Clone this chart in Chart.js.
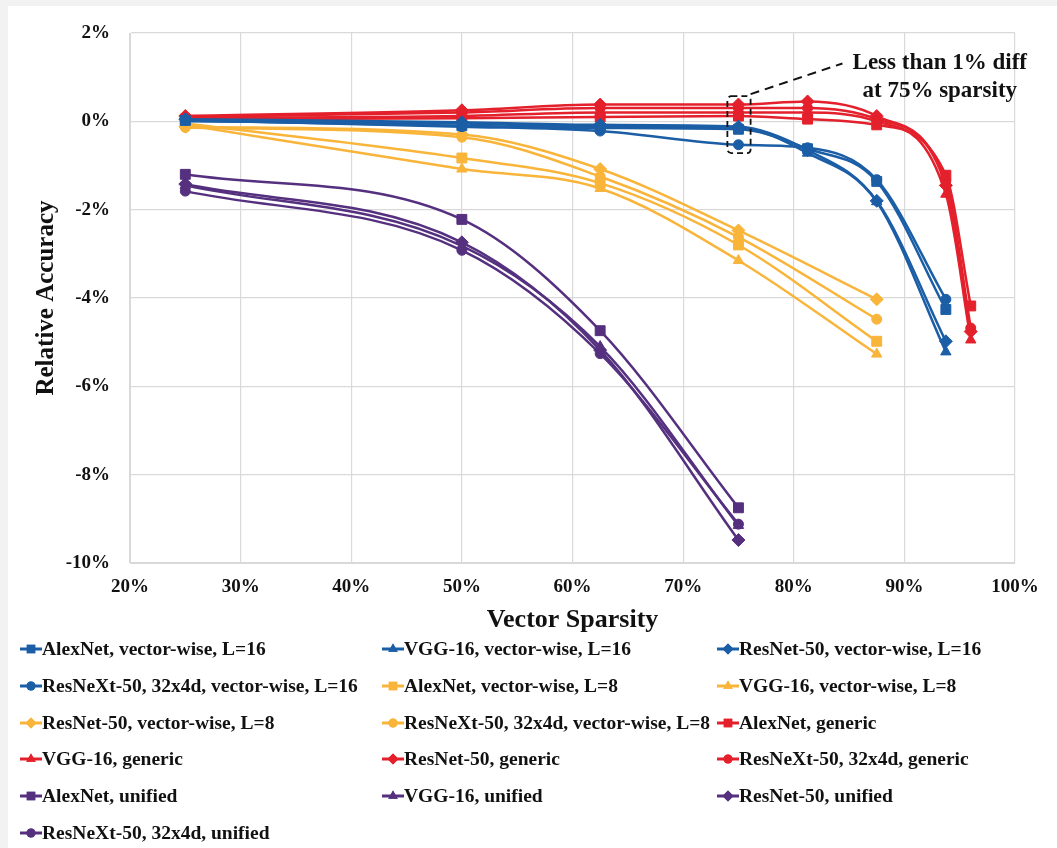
<!DOCTYPE html>
<html>
<head>
<meta charset="utf-8">
<script src="https://cdn.jsdelivr.net/npm/chart.js"></script>
<style>
  body { margin: 0; background: #f2f2f2; }
  #wrap { position: absolute; left: 8px; top: 6px; width: 1049px; height: 842px; background: #fff; }
  #chart-box { position: absolute; left: -8px; top: -6px; width: 1057px; height: 640px; }
  #legend {
    position: absolute; left: 12px; top: 625px; width: 1040px;
    display: grid; grid-template-columns: 362px 335px 340px; grid-auto-rows: 36.7px;
    font-family: "Liberation Serif", serif; font-weight: bold; font-size: 19.5px; color: #111;
  }
  .leg-item { display: flex; align-items: center; white-space: nowrap; }
  .leg-item canvas { margin-right: 0; }
</style>
</head>
<body>
<div id="wrap">
  <div id="chart-box"><canvas id="chart"></canvas></div>
  <div id="legend"></div>
</div>
<script>
// x positions (vector sparsity, %)
const xL16 = [25, 50, 62.5, 75, 81.25, 87.5, 93.75];
const xL8 = [25, 50, 62.5, 75, 87.5];
const xGeneric = [25, 50, 62.5, 75, 81.25, 87.5, 93.75, 96];
const xUnified = [25, 50, 62.5, 75];

// relative accuracy (%)
const alexL16 = [0.02, -0.1, -0.15, -0.18, -0.62, -1.36, -4.26];
const vggL16 = [0.0, -0.05, -0.12, -0.15, -0.72, -1.82, -5.22];
const resnetL16 = [0.05, -0.02, -0.08, -0.12, -0.65, -1.8, -4.98];
const resnextL16 = [0.03, -0.12, -0.22, -0.53, -0.6, -1.32, -4.03];

const alexL8 = [-0.05, -0.83, -1.4, -2.8, -4.98];
const vggL8 = [-0.08, -1.08, -1.52, -3.15, -5.27];
const resnetL8 = [-0.12, -0.3, -1.08, -2.47, -4.03];
const resnextL8 = [-0.14, -0.36, -1.25, -2.62, -4.48];

const alexGeneric = [0.05, 0.07, 0.1, 0.12, 0.05, -0.08, -1.22, -4.18];
const vggGeneric = [0.08, 0.12, 0.2, 0.2, 0.2, 0.0, -1.65, -4.95];
const resnetGeneric = [0.12, 0.25, 0.38, 0.38, 0.45, 0.12, -1.45, -4.76];
const resnextGeneric = [0.1, 0.2, 0.3, 0.3, 0.3, 0.05, -1.35, -4.68];

const alexUnified = [-1.2, -2.22, -4.74, -8.75];
const vggUnified = [-1.45, -2.82, -5.1, -9.15];
const resnetUnified = [-1.42, -2.74, -5.18, -9.48];
const resnextUnified = [-1.58, -2.92, -5.26, -9.12];

const xTicks = [20, 30, 40, 50, 60, 70, 80, 90, 100];
const yTicks = [2, 0, -2, -4, -6, -8, -10];

const BLUE = '#1b5ea6', YELLOW = '#f9b43a', RED = '#e3202b', PURPLE = '#55307f';
const FONT = '"Liberation Serif", "Times New Roman", serif';
const SIZES = { rect: 7, triangle: 6, rectRot: 6.5, circle: 5 };

function pts(xs, ys) {
  return xs.map((x, i) => ({ x: x, y: ys[i] }));
}

function series(label, xs, ys, color, shape) {
  return {
    label: label,
    data: pts(xs, ys),
    borderColor: color,
    backgroundColor: color,
    pointStyle: shape,
    pointRadius: SIZES[shape],
    pointBorderWidth: 1,
    borderWidth: 2.5,
    cubicInterpolationMode: 'monotone'
  };
}

const datasets = [
  series('AlexNet, vector-wise, L=16', xL16, alexL16, BLUE, 'rect'),
  series('VGG-16, vector-wise, L=16', xL16, vggL16, BLUE, 'triangle'),
  series('ResNet-50, vector-wise, L=16', xL16, resnetL16, BLUE, 'rectRot'),
  series('ResNeXt-50, 32x4d, vector-wise, L=16', xL16, resnextL16, BLUE, 'circle'),
  series('AlexNet, vector-wise, L=8', xL8, alexL8, YELLOW, 'rect'),
  series('VGG-16, vector-wise, L=8', xL8, vggL8, YELLOW, 'triangle'),
  series('ResNet-50, vector-wise, L=8', xL8, resnetL8, YELLOW, 'rectRot'),
  series('ResNeXt-50, 32x4d, vector-wise, L=8', xL8, resnextL8, YELLOW, 'circle'),
  series('AlexNet, generic', xGeneric, alexGeneric, RED, 'rect'),
  series('VGG-16, generic', xGeneric, vggGeneric, RED, 'triangle'),
  series('ResNet-50, generic', xGeneric, resnetGeneric, RED, 'rectRot'),
  series('ResNeXt-50, 32x4d, generic', xGeneric, resnextGeneric, RED, 'circle'),
  series('AlexNet, unified', xUnified, alexUnified, PURPLE, 'rect'),
  series('VGG-16, unified', xUnified, vggUnified, PURPLE, 'triangle'),
  series('ResNet-50, unified', xUnified, resnetUnified, PURPLE, 'rectRot'),
  series('ResNeXt-50, 32x4d, unified', xUnified, resnextUnified, PURPLE, 'circle')
];

// dashed box + callout text
const callout = {
  id: 'callout',
  afterDatasetsDraw(chart) {
    const sx = chart.scales.x, sy = chart.scales.y, ctx = chart.ctx;
    const x1 = sx.getPixelForValue(74), x2 = sx.getPixelForValue(76.1);
    const y1 = sy.getPixelForValue(0.57), y2 = sy.getPixelForValue(-0.72);
    ctx.save();
    ctx.strokeStyle = '#111';
    ctx.lineWidth = 1.8;
    ctx.setLineDash([6, 4]);
    ctx.beginPath();
    ctx.roundRect(x1, y1, x2 - x1, y2 - y1, 4);
    ctx.stroke();
    ctx.lineWidth = 2;
    ctx.setLineDash([9, 6]);
    ctx.beginPath();
    ctx.moveTo(x2, y1 - 2);
    ctx.lineTo(sx.getPixelForValue(84.4), sy.getPixelForValue(1.31));
    ctx.stroke();
    ctx.setLineDash([]);
    ctx.fillStyle = '#111';
    ctx.font = 'bold 23px ' + FONT;
    ctx.textAlign = 'center';
    ctx.textBaseline = 'middle';
    const tx = sx.getPixelForValue(93.2);
    ctx.fillText('Less than 1% diff', tx, sy.getPixelForValue(1.33));
    ctx.fillText('at 75% sparsity', tx, sy.getPixelForValue(0.68));
    ctx.restore();
  }
};

const chart = new Chart(document.getElementById('chart'), {
  type: 'line',
  data: { datasets: datasets },
  options: {
    responsive: true,
    maintainAspectRatio: false,
    animation: false,
    layout: { padding: { left: 28, right: 42, top: 33, bottom: 0 } },
    plugins: { legend: { display: false }, tooltip: { enabled: false } },
    scales: {
      x: {
        type: 'linear',
        min: 20, max: 100,
        afterBuildTicks: s => { s.ticks = xTicks.map(v => ({ value: v })); },
        afterFit: s => { s.height = 77; },
        grid: { color: '#d9d9d9', lineWidth: 1.2, drawTicks: false },
        border: { color: '#d9d9d9' },
        ticks: { padding: 13, color: '#111', font: { family: FONT, weight: 'bold', size: 19 }, callback: v => v + '%' },
        title: { display: true, text: 'Vector Sparsity', color: '#111', padding: { top: 4, bottom: 4 }, font: { family: FONT, weight: 'bold', size: 26 } }
      },
      y: {
        min: -10, max: 2,
        afterBuildTicks: s => { s.ticks = yTicks.map(v => ({ value: v })); },
        afterFit: s => { s.width = 102; },
        grid: { color: '#d9d9d9', lineWidth: 1.2, drawTicks: false },
        border: { color: '#d9d9d9' },
        ticks: { padding: 20, color: '#111', font: { family: FONT, weight: 'bold', size: 19 }, callback: v => v + '%' },
        title: { display: true, text: 'Relative Accuracy', color: '#111', font: { family: FONT, weight: 'bold', size: 25 } }
      }
    }
  },
  plugins: [callout]
});

// html legend in three columns
const legendBox = document.getElementById('legend');
chart.data.datasets.forEach(ds => {
  const item = document.createElement('div');
  item.className = 'leg-item';
  const c = document.createElement('canvas');
  c.width = 22; c.height = 14;
  const g = c.getContext('2d');
  g.strokeStyle = ds.borderColor;
  g.lineWidth = 3;
  g.beginPath(); g.moveTo(0, 7); g.lineTo(22, 7); g.stroke();
  g.fillStyle = ds.backgroundColor;
  const r = ds.pointStyle === 'rect' ? 6 : (ds.pointStyle === 'circle' ? 4.5 : 5.5);
  Chart.helpers.drawPoint(g, { pointStyle: ds.pointStyle, radius: r, borderWidth: 0 }, 11, 7);
  g.fill();
  item.appendChild(c);
  const t = document.createElement('span');
  t.textContent = ds.label;
  item.appendChild(t);
  legendBox.appendChild(item);
});
</script>
</body>
</html>
